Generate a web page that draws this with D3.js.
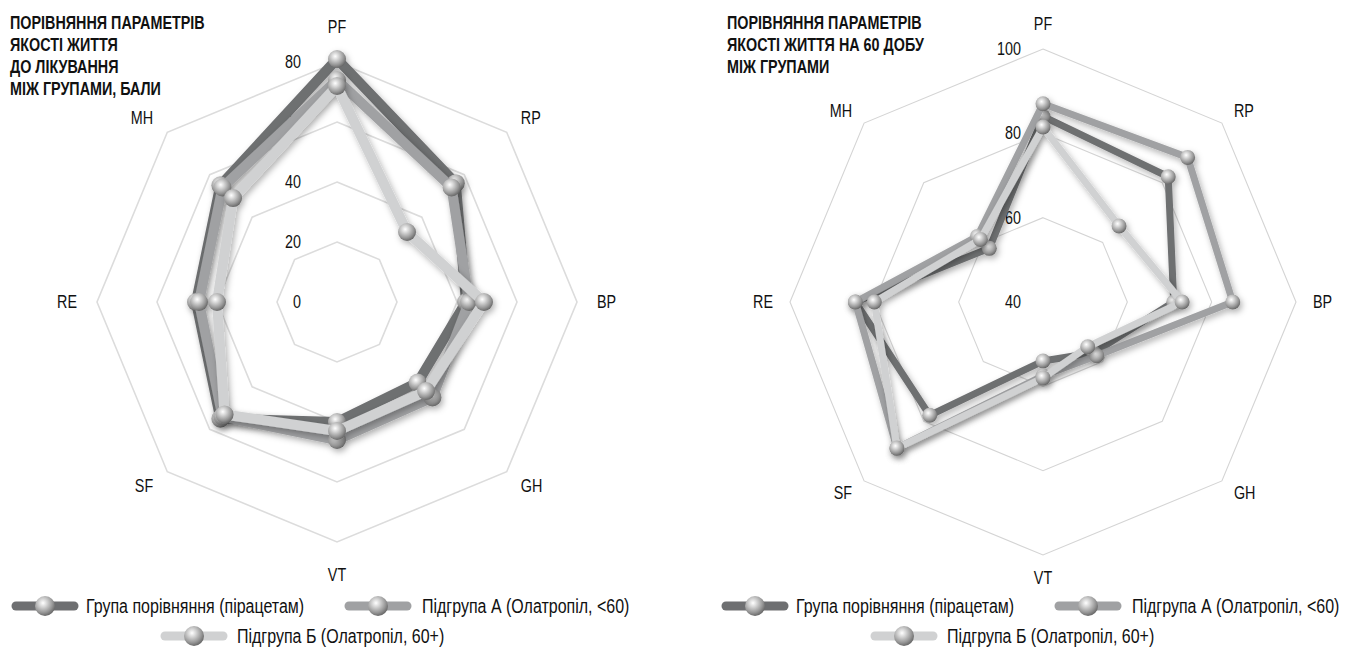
<!DOCTYPE html>
<html>
<head>
<meta charset="utf-8">
<script src="https://cdn.jsdelivr.net/npm/d3@7"></script>
<style>
  body { margin: 0; background: #fff; }
  svg { display: block; font-family: "Liberation Sans", Arial, sans-serif; }
</style>
</head>
<body>
<div id="vis"></div>
<script>
'use strict';

// axes, clockwise from the top
var AXES = ['PF', 'RP', 'BP', 'GH', 'VT', 'SF', 'RE', 'MH'];
var SERIES_NAMES = ['Група порівняння  (пірацетам)', 'Підгрупа А (Олатропіл, <60)', 'Підгрупа Б (Олатропіл, 60+)'];

// before treatment
var BEFORE_TICKS = [0, 20, 40, 60, 80];
var BEFORE_CONTROL = [81, 56, 43, 38, 40, 55, 47, 55];
var BEFORE_A = [74, 54, 44, 45, 46, 54, 46, 54];
var BEFORE_B = [72, 33, 49, 42, 43, 53, 40, 49];

// day 60
var DAY60_TICKS = [40, 60, 80, 100];
var DAY60_CONTROL = [84, 82, 71, 57, 54, 78, 84.5, 58];
var DAY60_A = [87, 88.5, 85, 58, 57.5, 89, 84.5, 62];
var DAY60_B = [81.5, 65.5, 73, 55, 58, 89, 80, 61];

var TITLE_BEFORE = ['ПОРІВНЯННЯ ПАРАМЕТРІВ', 'ЯКОСТІ ЖИТТЯ', 'ДО ЛІКУВАННЯ', 'МІЖ ГРУПАМИ, БАЛИ'];
var TITLE_DAY60 = ['ПОРІВНЯННЯ ПАРАМЕТРІВ', 'ЯКОСТІ ЖИТТЯ НА 60 ДОБУ', 'МІЖ ГРУПАМИ'];

var COLORS = ['#6e6f71', '#a0a1a3', '#d0d1d2'];
var NARROW = 0.82;  // squeeze text to look like a condensed face

var W = 1348, H = 651;
var svg = d3.select('#vis').append('svg').attr('width', W).attr('height', H);

var defs = svg.append('defs');
var ball = defs.append('radialGradient').attr('id', 'ball')
    .attr('cx', '40%').attr('cy', '35%').attr('r', '65%');
ball.append('stop').attr('offset', '0%').attr('stop-color', '#ffffff');
ball.append('stop').attr('offset', '30%').attr('stop-color', '#d6d6d6');
ball.append('stop').attr('offset', '75%').attr('stop-color', '#959595');
ball.append('stop').attr('offset', '100%').attr('stop-color', '#6a6a6a');
var shadow = defs.append('filter').attr('id', 'shadow')
    .attr('x', '-20%').attr('y', '-20%').attr('width', '140%').attr('height', '140%');
shadow.append('feDropShadow').attr('dx', 2).attr('dy', 3)
    .attr('stdDeviation', 3).attr('flood-color', '#000').attr('flood-opacity', 0.3);

// place a text at x,y and squeeze it horizontally
function place(sel, fx, fy){
    sel.attr('transform', function(d, i){
        return 'translate(' + fx(d, i) + ',' + fy(d, i) + ') scale(' + NARROW + ',1)';
    });
}

function drawRadar(opts){
    var g = svg.append('g').attr('transform', 'translate(' + opts.cx + ',' + opts.cy + ')');
    var ticks = opts.ticks;
    var r = d3.scaleLinear()
        .domain([ticks[0], ticks[ticks.length - 1]])
        .range([0, opts.radius]);
    var step = 2 * Math.PI / AXES.length;

    // octagon grid
    var gridLine = d3.lineRadial()
        .angle(function(d, i){ return i * step; })
        .radius(function(d){ return r(d); })
        .curve(d3.curveLinearClosed);
    g.selectAll('.grid')
        .data(ticks.slice(1))
      .enter().append('path')
        .attr('class', 'grid')
        .attr('d', function(t){ return gridLine(AXES.map(function(){ return t; })); })
        .style('fill', 'none')
        .style('stroke', opts.gridColor)
        .style('stroke-width', opts.gridWidth);

    // tick labels up the PF axis
    var tk = g.selectAll('.tick')
        .data(ticks)
      .enter().append('text')
        .attr('class', 'tick')
        .attr('dy', '0.35em')
        .style('text-anchor', 'end')
        .style('font-size', '17.5px')
        .style('fill', '#111')
        .text(function(t){ return t; });
    place(tk, function(){ return opts.tickX; }, function(t){ return -r(t); });

    // series bands
    var line = d3.lineRadial()
        .angle(function(d, i){ return i * step; })
        .radius(function(d){ return r(d); })
        .curve(d3.curveLinearClosed);
    var sg = g.selectAll('.series')
        .data(opts.series)
      .enter().append('g')
        .attr('class', 'series')
        .style('filter', 'url(#shadow)');
    sg.append('path')
        .attr('d', function(d){ return line(d); })
        .style('fill', 'none')
        .style('stroke', function(d, i){ return COLORS[i]; })
        .style('stroke-width', opts.lineWidth)
        .style('stroke-linejoin', 'round');
    sg.selectAll('circle')
        .data(function(d){ return d; })
      .enter().append('circle')
        .attr('cx', function(d, i){ return r(d) * Math.sin(i * step); })
        .attr('cy', function(d, i){ return -r(d) * Math.cos(i * step); })
        .attr('r', opts.ballR)
        .style('fill', 'url(#ball)');

    // axis labels
    function labelR(i){
        if (i == 0) return opts.topR;
        if (i == 4) return opts.bottomR;
        return opts.labelR;
    }
    var al = g.selectAll('.axis-label')
        .data(AXES)
      .enter().append('text')
        .attr('class', 'axis-label')
        .attr('dy', function(d, i){
            if (i == 0) return '-0.25em';
            if (i == 4) return '0.9em';
            return '0.35em';
        })
        .style('text-anchor', function(d, i){
            if (i == 0 || i == 4) return 'middle';
            return i < 4 ? 'start' : 'end';
        })
        .style('font-size', '17.5px')
        .style('fill', '#111')
        .text(function(d){ return d; });
    place(al,
        function(d, i){ return labelR(i) * Math.sin(i * step); },
        function(d, i){ return -labelR(i) * Math.cos(i * step); });
}

function drawTitle(lines, x){
    var t = svg.append('g').selectAll('text')
        .data(lines)
      .enter().append('text')
        .style('font-size', '17.5px')
        .style('font-weight', 'bold')
        .style('fill', '#111')
        .text(function(d){ return d; });
    place(t, function(){ return x; }, function(d, i){ return 29 + i * 22; });
}

function drawLegend(ox){
    var items = [
        {ball: 45, text: 86, y: 606},
        {ball: 378, text: 422, y: 606},
        {ball: 194, text: 237, y: 636}
    ];
    var lg = svg.append('g').attr('transform', 'translate(' + ox + ',0)');
    var it = lg.selectAll('.item')
        .data(SERIES_NAMES)
      .enter().append('g')
        .attr('class', 'item');
    it.append('line')
        .attr('x1', function(d, i){ return items[i].ball - 29; })
        .attr('x2', function(d, i){ return items[i].ball + 29; })
        .attr('y1', function(d, i){ return items[i].y; })
        .attr('y2', function(d, i){ return items[i].y; })
        .style('stroke', function(d, i){ return COLORS[i]; })
        .style('stroke-width', 9)
        .style('stroke-linecap', 'round');
    it.append('circle')
        .attr('cx', function(d, i){ return items[i].ball; })
        .attr('cy', function(d, i){ return items[i].y; })
        .attr('r', 10)
        .style('fill', 'url(#ball)');
    var tx = it.append('text')
        .attr('dy', '0.35em')
        .style('font-size', '19.5px')
        .style('fill', '#111')
        .text(function(d){ return d; });
    place(tx, function(d, i){ return items[i].text; }, function(d, i){ return items[i].y; });
}

drawRadar({
    cx: 337, cy: 302, radius: 240, ticks: BEFORE_TICKS,
    series: [BEFORE_CONTROL, BEFORE_A, BEFORE_B],
    gridColor: '#dcdcdc', gridWidth: 1.6, lineWidth: 10, ballR: 9,
    tickX: -36, labelR: 260, topR: 265, bottomR: 263
});
drawRadar({
    cx: 1043, cy: 302, radius: 253, ticks: DAY60_TICKS,
    series: [DAY60_CONTROL, DAY60_A, DAY60_B],
    gridColor: '#d4d4d4', gridWidth: 1.1, lineWidth: 7, ballR: 7.5,
    tickX: -22, labelR: 270, topR: 268, bottomR: 266
});
drawTitle(TITLE_BEFORE, 10);
drawTitle(TITLE_DAY60, 727);
drawLegend(0);
drawLegend(710);
</script>
</body>
</html>
